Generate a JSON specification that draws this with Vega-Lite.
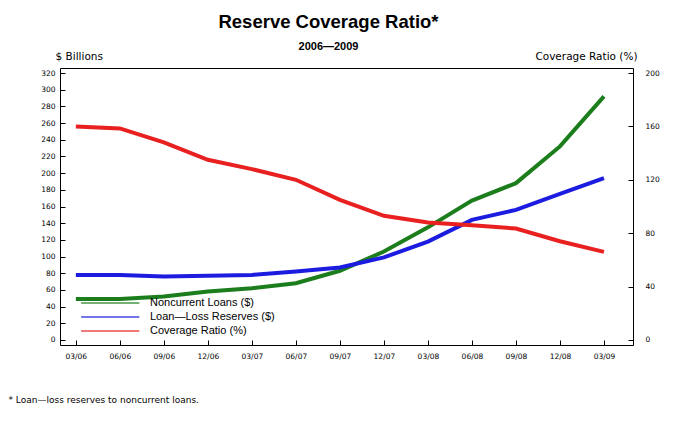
{
  "$schema": "https://vega.github.io/schema/vega-lite/v6.json",
  "autosize": "none",
  "width": 573,
  "height": 277,
  "padding": {"left": 60, "top": 68, "right": 47, "bottom": 92},
  "background": "white",
  "title": {
    "text": "Reserve Coverage Ratio*",
    "subtitle": "2006\u20142009",
    "font": "Liberation Sans",
    "fontSize": 18.5,
    "fontWeight": "bold",
    "subtitleFont": "Liberation Sans",
    "subtitleFontSize": 11,
    "subtitleFontWeight": "bold",
    "subtitleColor": "black",
    "subtitlePadding": 10,
    "offset": -1,
    "dx": -18,
    "anchor": "middle",
    "frame": "group"
  },
  "config": {
    "font": "DejaVu Sans",
    "view": {"stroke": "black", "strokeWidth": 1},
    "axis": {
      "grid": false,
      "domain": false,
      "tickColor": "black",
      "labelColor": "black",
      "labelFontSize": 7.5,
      "titleFontWeight": "normal",
      "titleFontSize": 10.5,
      "titleColor": "black"
    }
  },
  "data": {
    "values": [
      {"q": 0, "series": "Noncurrent Loans ($)", "value": 49},
      {"q": 1, "series": "Noncurrent Loans ($)", "value": 49},
      {"q": 2, "series": "Noncurrent Loans ($)", "value": 52},
      {"q": 3, "series": "Noncurrent Loans ($)", "value": 58},
      {"q": 4, "series": "Noncurrent Loans ($)", "value": 62},
      {"q": 5, "series": "Noncurrent Loans ($)", "value": 68},
      {"q": 6, "series": "Noncurrent Loans ($)", "value": 83},
      {"q": 7, "series": "Noncurrent Loans ($)", "value": 106},
      {"q": 8, "series": "Noncurrent Loans ($)", "value": 135},
      {"q": 9, "series": "Noncurrent Loans ($)", "value": 167},
      {"q": 10, "series": "Noncurrent Loans ($)", "value": 188},
      {"q": 11, "series": "Noncurrent Loans ($)", "value": 232},
      {"q": 12, "series": "Noncurrent Loans ($)", "value": 292},
      {"q": 0, "series": "Loan\u2014Loss Reserves ($)", "value": 78},
      {"q": 1, "series": "Loan\u2014Loss Reserves ($)", "value": 78},
      {"q": 2, "series": "Loan\u2014Loss Reserves ($)", "value": 76},
      {"q": 3, "series": "Loan\u2014Loss Reserves ($)", "value": 77},
      {"q": 4, "series": "Loan\u2014Loss Reserves ($)", "value": 78},
      {"q": 5, "series": "Loan\u2014Loss Reserves ($)", "value": 82},
      {"q": 6, "series": "Loan\u2014Loss Reserves ($)", "value": 87},
      {"q": 7, "series": "Loan\u2014Loss Reserves ($)", "value": 99},
      {"q": 8, "series": "Loan\u2014Loss Reserves ($)", "value": 118},
      {"q": 9, "series": "Loan\u2014Loss Reserves ($)", "value": 144},
      {"q": 10, "series": "Loan\u2014Loss Reserves ($)", "value": 156},
      {"q": 11, "series": "Loan\u2014Loss Reserves ($)", "value": 175},
      {"q": 12, "series": "Loan\u2014Loss Reserves ($)", "value": 194},
      {"q": 0, "series": "Coverage Ratio (%)", "value": 160},
      {"q": 1, "series": "Coverage Ratio (%)", "value": 158.5},
      {"q": 2, "series": "Coverage Ratio (%)", "value": 148},
      {"q": 3, "series": "Coverage Ratio (%)", "value": 135},
      {"q": 4, "series": "Coverage Ratio (%)", "value": 128},
      {"q": 5, "series": "Coverage Ratio (%)", "value": 120},
      {"q": 6, "series": "Coverage Ratio (%)", "value": 105},
      {"q": 7, "series": "Coverage Ratio (%)", "value": 93},
      {"q": 8, "series": "Coverage Ratio (%)", "value": 88},
      {"q": 9, "series": "Coverage Ratio (%)", "value": 86},
      {"q": 10, "series": "Coverage Ratio (%)", "value": 83.5},
      {"q": 11, "series": "Coverage Ratio (%)", "value": 74},
      {"q": 12, "series": "Coverage Ratio (%)", "value": 66}
    ]
  },
  "encoding": {
    "x": {
      "field": "q",
      "type": "quantitative",
      "scale": {"domain": [-0.36, 12.66], "nice": false, "zero": false},
      "axis": {
        "values": [0, 1, 2, 3, 4, 5, 6, 7, 8, 9, 10, 11, 12],
        "labelExpr": "['03/06','06/06','09/06','12/06','03/07','06/07','09/07','12/07','03/08','06/08','09/08','12/08','03/09'][datum.value]",
        "tickSize": -5,
        "labelPadding": 12,
        "title": "* Loan\u2014loss reserves to noncurrent loans.",
        "titleFontSize": 9,
        "titleAnchor": "start",
        "titleAlign": "left",
        "titleX": -52,
        "titleY": 50
      }
    },
    "color": {
      "field": "series",
      "type": "nominal",
      "scale": {
        "domain": ["Noncurrent Loans ($)", "Loan\u2014Loss Reserves ($)", "Coverage Ratio (%)"],
        "range": ["#1b7d1b", "#1c1ce0", "#e82020"]
      },
      "legend": {
        "title": null,
        "orient": "none",
        "legendX": 20,
        "legendY": 229,
        "symbolType": "M-1,0H11",
        "symbolSize": 94,
        "symbolStrokeWidth": 2,
        "symbolOpacity": 0.6,
        "labelFont": "Liberation Sans",
        "labelFontSize": 11,
        "labelColor": "black",
        "labelOffset": 58,
        "rowPadding": 3,
        "padding": 0
      }
    }
  },
  "layer": [
    {
      "transform": [{"filter": "datum.series != 'Coverage Ratio (%)'"}],
      "mark": {"type": "line", "strokeWidth": 4},
      "encoding": {
        "y": {
          "field": "value",
          "type": "quantitative",
          "scale": {"domain": [-6, 326], "nice": false, "zero": false},
          "axis": {
            "orient": "left",
            "values": [0, 20, 40, 60, 80, 100, 120, 140, 160, 180, 200, 220, 240, 260, 280, 300, 320],
            "tickSize": -5,
            "labelPadding": 10,
            "title": "$ Billions",
            "titleAngle": 0,
            "titleAlign": "left",
            "titleBaseline": "alphabetic",
            "titleX": -5,
            "titleY": -9
          }
        }
      }
    },
    {
      "transform": [{"filter": "datum.series == 'Coverage Ratio (%)'"}],
      "mark": {"type": "line", "strokeWidth": 4},
      "encoding": {
        "y": {
          "field": "value",
          "type": "quantitative",
          "scale": {"domain": [-3.75, 203.75], "nice": false, "zero": false},
          "axis": {
            "orient": "right",
            "values": [0, 40, 80, 120, 160, 200],
            "tickSize": -5,
            "labelPadding": 17,
            "title": "Coverage Ratio (%)",
            "titleAngle": 0,
            "titleAlign": "right",
            "titleBaseline": "alphabetic",
            "titleX": 4,
            "titleY": -9
          }
        }
      }
    }
  ],
  "resolve": {"scale": {"y": "independent"}}
}
